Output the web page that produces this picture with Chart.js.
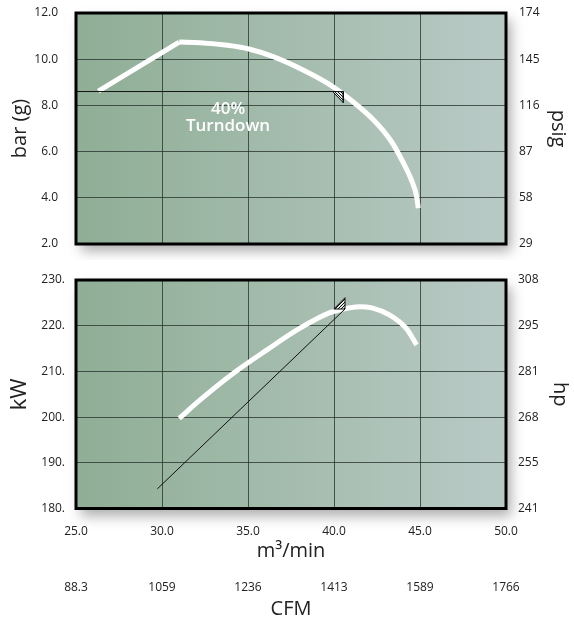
<!DOCTYPE html>
<html>
<head>
<meta charset="utf-8">
<script src="https://cdn.jsdelivr.net/npm/chart.js@4.4.1/dist/chart.umd.min.js"></script>
<style>
  html, body { margin: 0; padding: 0; background: #fff; }
  #wrap { position: relative; width: 574px; height: 617px; }
  canvas { position: absolute; left: 0; }
  #pressureChart { top: 0; }
  #powerChart { top: 260px; }
</style>
</head>
<body>
<div id="wrap">
  <canvas id="pressureChart" width="574" height="260"></canvas>
  <canvas id="powerChart" width="574" height="357"></canvas>
</div>
<script>
// --- data ---
const psigLabels = ['29', '58', '87', '116', '145', '174'];
const hpLabels = ['241', '255', '268', '281', '295', '308'];
const cfmLabels = ['88.3', '1059', '1236', '1413', '1589', '1766'];

// pressure (bar g) vs flow (m3/min)
const rampFlow = [26.3, 31.0];
const rampBar = [8.62, 10.74];
const pressureFlow = [31.0, 32.2, 33.8, 35.0, 36.5, 38.4, 39.8, 41.1, 42.3, 43.3, 44.0, 44.5, 44.8, 44.9];
const pressureBar = [10.74, 10.71, 10.60, 10.45, 10.10, 9.46, 8.88, 8.16, 7.37, 6.48, 5.56, 4.77, 4.07, 3.55];
const turndownFlow = [25.0, 40.54];
const turndownBar = [8.6, 8.6];
const turndownMarkFlow = [39.92, 40.54, 40.54, 39.92];
const turndownMarkBar = [8.6, 8.6, 8.12, 8.6];
const turndownText = ['40%', 'Turndown'];
const turndownTextAt = [33.84, 7.62];

// power (kW) vs flow (m3/min)
const powerFlow = [31.0, 32.2, 34.15, 36.1, 38.0, 39.8, 40.9, 41.5, 42.2, 43.25, 44.2, 44.8];
const powerKw = [199.7, 203.7, 209.6, 214.7, 219.4, 222.9, 223.9, 224.15, 223.9, 222.3, 219.4, 215.8];
const powerLineFlow = [29.73, 40.64];
const powerLineKw = [184.3, 223.65];
const powerMarkFlow = [39.99, 40.64, 40.64, 39.99];
const powerMarkKw = [223.65, 223.65, 226.13, 223.65];

Chart.defaults.font.family = "'Open Sans', sans-serif";
Chart.defaults.color = '#222';

const gridColor = 'rgba(35,45,40,0.75)';
const toPoints = (xs, ys) => xs.map((x, i) => ({ x, y: ys[i] }));

// diagonal hatch, dir > 0 is "///", otherwise "\\\"
function hatch(dir) {
    const n = 3;
    const c = document.createElement('canvas');
    c.width = n; c.height = n;
    const p = c.getContext('2d');
    p.fillStyle = '#e4ebe7';
    p.fillRect(0, 0, n, n);
    p.strokeStyle = '#111';
    p.lineWidth = 1;
    p.beginPath();
    for (let k = -n; k <= n; k += n) {
        if (dir > 0) { p.moveTo(k - 1, n + 1); p.lineTo(k + n + 1, -1); }
        else { p.moveTo(k - 1, -1); p.lineTo(k + n + 1, n + 1); }
    }
    p.stroke();
    return p.createPattern(c, 'repeat');
}

function curve(xs, ys, smooth) {
    return { data: toPoints(xs, ys), showLine: true, pointRadius: 0, borderColor: '#fff',
             borderWidth: 5, cubicInterpolationMode: smooth ? 'monotone' : 'default', tension: 0,
             borderCapStyle: 'butt', borderJoinStyle: 'round' };
}
function thin(xs, ys) {
    return { data: toPoints(xs, ys), showLine: true, pointRadius: 0, borderColor: '#111',
             borderWidth: 1, tension: 0 };
}
function mark(xs, ys, dir) {
    return { data: toPoints(xs, ys), showLine: true, pointRadius: 0, borderColor: '#111',
             borderWidth: 1, tension: 0, fill: 'shape', backgroundColor: hatch(dir) };
}

// y axes: fixed width, no extra room for the end labels
const fixWidth = w => s => { s.width = w; s.paddingTop = 0; s.paddingBottom = 0; };

// gradient panel with drop shadow, black frame on top
const panelPlugin = {
    id: 'panel',
    beforeDraw(chart) {
        const { ctx, chartArea: a } = chart;
        ctx.save();
        ctx.shadowColor = 'rgba(0,0,0,0.32)';
        ctx.shadowBlur = 12;
        ctx.shadowOffsetX = 5;
        ctx.shadowOffsetY = 7;
        const g = ctx.createLinearGradient(a.left, 0, a.right, 0);
        g.addColorStop(0, '#8fae95');
        g.addColorStop(1, '#b9cac6');
        ctx.fillStyle = g;
        ctx.fillRect(a.left, a.top, a.width, a.height);
        ctx.restore();
    },
    afterDatasetsDraw(chart, args, opts) {
        if (!opts.text) return;
        const { ctx, scales } = chart;
        const x = scales.x.getPixelForValue(opts.at[0]);
        const y = scales.y.getPixelForValue(opts.at[1]);
        ctx.save();
        ctx.fillStyle = '#fff';
        ctx.font = "600 17px 'Open Sans', sans-serif";
        ctx.textAlign = 'center';
        ctx.textBaseline = 'alphabetic';
        opts.text.forEach((t, i) => ctx.fillText(t, x, y + i * 17));
        ctx.restore();
    },
    afterDraw(chart) {
        const { ctx, chartArea: a } = chart;
        ctx.save();
        ctx.strokeStyle = '#000';
        ctx.lineWidth = 3;
        ctx.strokeRect(a.left, a.top, a.width, a.height);
        ctx.restore();
    }
};

const baseOpts = {
    responsive: false,
    animation: false,
    plugins: { legend: { display: false }, tooltip: { enabled: false } },
};

// ---- pressure chart ---- (first dataset is drawn on top)
new Chart(document.getElementById('pressureChart').getContext('2d'), {
    type: 'scatter',
    data: {
        datasets: [
            mark(turndownMarkFlow, turndownMarkBar, -1),
            thin(turndownFlow, turndownBar),
            curve(pressureFlow, pressureBar, true),
            curve(rampFlow, rampBar, false)
        ]
    },
    options: {
        ...baseOpts,
        layout: { padding: { top: 13, left: 0, right: 0, bottom: 0 } },
        plugins: { ...baseOpts.plugins, panel: { text: turndownText, at: turndownTextAt } },
        scales: {
            x: {
                type: 'linear', min: 25, max: 50,
                ticks: { stepSize: 5, display: false },
                grid: { color: gridColor, drawTicks: false },
                border: { display: false },
                afterFit(s) { s.height = 16; }
            },
            y: {
                min: 2, max: 12,
                ticks: { stepSize: 2, padding: 18, font: { size: 12 }, callback: v => v.toFixed(1) },
                grid: { color: gridColor, drawTicks: false },
                border: { display: false },
                title: { display: true, text: 'bar (g)', font: { size: 20 }, padding: { top: 8, bottom: 0 } },
                afterFit: fixWidth(76)
            },
            y2: {
                position: 'right', min: 2, max: 12,
                ticks: { stepSize: 2, padding: 13, font: { size: 12 }, callback: (v, i) => psigLabels[i] },
                grid: { display: false, drawTicks: false },
                border: { display: false },
                title: { display: true, text: 'psig', font: { size: 20 }, padding: { top: 4, bottom: 0 } },
                afterFit: fixWidth(68)
            }
        }
    },
    plugins: [panelPlugin]
});

// ---- power chart ----
new Chart(document.getElementById('powerChart').getContext('2d'), {
    type: 'scatter',
    data: {
        datasets: [
            mark(powerMarkFlow, powerMarkKw, 1),
            thin(powerLineFlow, powerLineKw),
            curve(powerFlow, powerKw, true)
        ]
    },
    options: {
        ...baseOpts,
        layout: { padding: { top: 20, left: 0, right: 0, bottom: 0 } },
        scales: {
            x: {
                type: 'linear', min: 25, max: 50, weight: 0,
                ticks: { stepSize: 5, padding: 16, font: { size: 12 }, callback: v => v.toFixed(1) },
                grid: { color: gridColor, drawTicks: false },
                border: { display: false },
                title: { display: true, text: 'm³/min', font: { size: 20 }, padding: { top: 0, bottom: 0 } },
                afterFit(s) { s.height = 55; }
            },
            x2: {
                type: 'linear', position: 'bottom', min: 25, max: 50, weight: 1,
                ticks: { stepSize: 5, padding: 17, font: { size: 12 }, callback: (v, i) => cfmLabels[i] },
                grid: { display: false, drawTicks: false },
                border: { display: false },
                title: { display: true, text: 'CFM', font: { size: 20, lineHeight: 0.8 }, padding: { top: 0, bottom: 0 } },
                afterFit(s) { s.height = 53.5; }
            },
            y: {
                min: 180, max: 230,
                ticks: { stepSize: 10, padding: 11, font: { size: 12 }, callback: v => v + '.' },
                grid: { color: gridColor, drawTicks: false },
                border: { display: false },
                title: { display: true, text: 'kW', font: { size: 22 }, padding: { top: 7, bottom: 0 } },
                afterFit: fixWidth(76)
            },
            y2: {
                position: 'right', min: 180, max: 230,
                ticks: { stepSize: 10, padding: 12, font: { size: 12 }, callback: (v, i) => hpLabels[i] },
                grid: { display: false, drawTicks: false },
                border: { display: false },
                title: { display: true, text: 'hp', font: { size: 20 }, padding: { top: 2, bottom: 0 } },
                afterFit: fixWidth(68)
            }
        }
    },
    plugins: [panelPlugin]
});
</script>
</body>
</html>
